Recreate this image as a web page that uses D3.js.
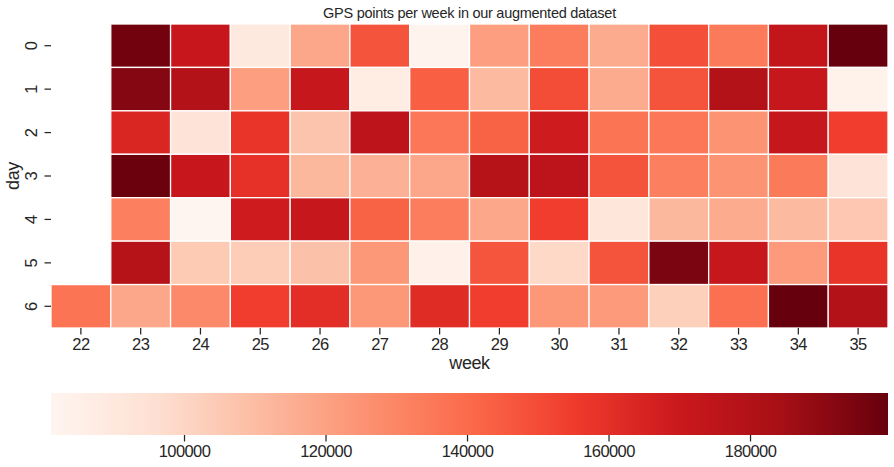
<!DOCTYPE html>
<html>
<head>
<meta charset="utf-8">
<script src="https://cdn.jsdelivr.net/npm/d3@7"></script>
<style>
  html, body { margin: 0; padding: 0; background: #fff; }
  svg { display: block; }
  text { font-family: "Liberation Sans", Arial, sans-serif; fill: #262626; }
  .tick line, .cbar-axis line { stroke: #262626; stroke-width: 1.25; }
</style>
</head>
<body>
<svg id="chart" width="894" height="467"></svg>
<script>
const weeks = [22, 23, 24, 25, 26, 27, 28, 29, 30, 31, 32, 33, 34, 35];
const days = [0, 1, 2, 3, 4, 5, 6];

const day0 = [null, 196900, 171100, 89500, 117900, 147400, 82400, 121400, 133300, 116700, 148600, 134400, 173500, 199500];
const day1 = [null, 192400, 179400, 121400, 172300, 87100, 143900, 110800, 149800, 116700, 147400, 179400, 172300, 83600];
const day2 = [null, 164000, 93000, 158100, 107200, 175800, 135600, 142700, 168700, 136800, 135600, 125000, 172300, 154500];
const day3 = [null, 198300, 171100, 159300, 112000, 114300, 117900, 178200, 175800, 147400, 132100, 125000, 134400, 93000];
const day4 = [null, 132100, 81200, 168700, 172300, 142700, 133300, 117900, 154500, 91800, 112000, 116700, 110800, 106000];
const day5 = [null, 178200, 104900, 103700, 108400, 123800, 84700, 147000, 98900, 147400, 194800, 172300, 122600, 158100];
const day6 = [136800, 117900, 128500, 154500, 160500, 123800, 161600, 154500, 123800, 122600, 102500, 138000, 199500, 179400];
const rows = [day0, day1, day2, day3, day4, day5, day6];

const cbarTicks = [100000, 120000, 140000, 160000, 180000];
const vmin = 81200, vmax = 199500;

const svg = d3.select("#chart");
const plotLeft = 51, plotRight = 888, plotTop = 24, plotBottom = 328;
const barTop = 393, barBottom = 435;

// same stops as matplotlib's Reds
const reds = d3.piecewise(d3.interpolateRgb, d3.schemeReds[9]);
const color = d3.scaleSequential(reds).domain([vmin, vmax]);

const x = d3.scaleBand().domain(weeks).range([plotLeft, plotRight]);
const y = d3.scaleBand().domain(days).range([plotTop, plotBottom]);

const cells = [];
rows.forEach((r, i) => r.forEach((v, j) => {
    if (v !== null) cells.push({ day: days[i], week: weeks[j], value: v });
}));

svg.append("g").selectAll("rect")
    .data(cells)
    .enter()
    .append("rect")
    .attr("x", d => x(d.week))
    .attr("y", d => y(d.day))
    .attr("width", x.bandwidth())
    .attr("height", y.bandwidth())
    .attr("fill", d => color(d.value))
    .attr("stroke", "#fff")
    .attr("stroke-width", 1.3);

// axes
const xAxis = svg.append("g")
    .attr("transform", "translate(0," + plotBottom + ")")
    .call(d3.axisBottom(x).tickSize(6.5).tickPadding(3.5));
const yAxis = svg.append("g")
    .attr("transform", "translate(" + plotLeft + ",0)")
    .call(d3.axisLeft(y).tickSize(6.5).tickPadding(5));

xAxis.select(".domain").remove();
yAxis.select(".domain").remove();
xAxis.selectAll("text")
    .style("font-size", "16.5px")
    .style("letter-spacing", "-0.6px");
yAxis.selectAll("text")
    .style("font-size", "16.5px")
    .attr("text-anchor", "middle")
    .attr("dy", 0)
    .attr("x", 0)
    .attr("transform", "translate(-18.5,0) rotate(-90)")
    .attr("dominant-baseline", "middle");

svg.append("text")
    .attr("x", (plotLeft + plotRight) / 2)
    .attr("y", 18)
    .attr("text-anchor", "middle")
    .style("font-size", "14.5px")
    .style("letter-spacing", "-0.27px")
    .text("GPS points per week in our augmented dataset");

svg.append("text")
    .attr("x", (plotLeft + plotRight) / 2)
    .attr("y", 369)
    .attr("text-anchor", "middle")
    .style("font-size", "18px")
    .style("letter-spacing", "-0.4px")
    .text("week");

svg.append("text")
    .attr("transform", "translate(19," + (plotTop + plotBottom) / 2 + ") rotate(-90)")
    .attr("text-anchor", "middle")
    .style("font-size", "18px")
    .style("letter-spacing", "-0.4px")
    .text("day");

// colorbar
const cx = d3.scaleLinear().domain([vmin, vmax]).range([plotLeft, plotRight]);

const grad = svg.append("defs").append("linearGradient")
    .attr("id", "cbar")
    .attr("x1", "0%").attr("x2", "100%");
d3.range(0, 1.0001, 0.125).forEach(t => {
    grad.append("stop")
        .attr("offset", (t * 100) + "%")
        .attr("stop-color", reds(t));
});

svg.append("rect")
    .attr("x", cx(vmin))
    .attr("y", barTop)
    .attr("width", cx(vmax) - cx(vmin))
    .attr("height", barBottom - barTop)
    .attr("fill", "url(#cbar)");

const cAxis = svg.append("g")
    .attr("class", "cbar-axis")
    .attr("transform", "translate(0," + barBottom + ")")
    .call(d3.axisBottom(cx).tickValues(cbarTicks).tickFormat(d3.format("d")).tickSize(6.5).tickPadding(3.5));
cAxis.select(".domain").remove();
cAxis.selectAll("text")
    .style("font-size", "16.5px")
    .style("letter-spacing", "-0.6px");
</script>
</body>
</html>
